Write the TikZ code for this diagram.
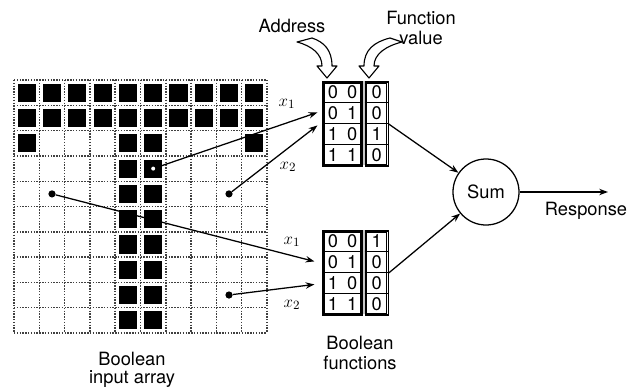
\documentclass[tikz,border=0pt]{standalone}
\usepackage{fontspec}
\setmainfont{TeX Gyre Heros}
\usetikzlibrary{arrows.meta,calc,positioning}

\begin{document}
\begin{tikzpicture}[x=0.025cm, y=-0.025cm,
    lbl/.style={font=\fontsize{13}{14}\selectfont, align=center, inner sep=1pt},
    gridline/.style={densely dotted, line width=1pt, black!75},
    dot/.style={circle, fill=black, inner sep=0pt, minimum size=0.18cm},
    wdot/.style={circle, fill=white, inner sep=0pt, minimum size=0.1cm},
    addr/.style={rectangle, draw, line width=0.8pt,
               minimum width=0.975cm, minimum height=2.1cm, inner sep=0pt},
    fval/.style={addr, minimum width=0.575cm},
    hollow/.style={draw, fill=white, line width=0.8pt, line join=round},
    arr/.style={-{Stealth[length=2.2mm,width=1.6mm]}, line width=0.9pt}
]
    \useasboundingbox (0,0) rectangle (627,390);

    % Boolean input array: dotted 10x10 grid
    \foreach \i in {0,...,10} {
        \draw[gridline] ({14+25.3*\i},80) -- ({14+25.3*\i},333);
        \draw[gridline] (14,{80+25.3*\i}) -- (267,{80+25.3*\i});
    }
    % the letter T
    \foreach \r in {0,1}
        \foreach \c in {0,...,9}
            \fill ({14+25.3*\c+3.6},{80+25.3*\r+3.6}) rectangle ++(18.1,18.1);
    \foreach \c in {0,4,5,9}
        \fill ({14+25.3*\c+3.6},{80+25.3*2+3.6}) rectangle ++(18.1,18.1);
    \foreach \r in {3,...,9}
        \foreach \c in {4,5}
            \fill ({14+25.3*\c+3.6},{80+25.3*\r+3.6}) rectangle ++(18.1,18.1);

    % sampled pixels
    \node[wdot] (w)  at (153.2,168.6) {};
    \node[dot]  (p1) at (52,193.9) {};
    \node[dot]  (p2) at (229,193.9) {};
    \node[dot]  (p3) at (229,295) {};
    \node[lbl, font=\fontsize{13}{13}\selectfont] (bia) at (132,370) {Boolean\\input array};

    % Boolean functions (look-up tables)
    \node[addr] (fa) at (342.5,124) {};
    \node[fval, right=0.05cm of fa] (fv) {};
    \node[addr] (ga) at (342.5,273) {};
    \node[fval, right=0.05cm of ga] (gv) {};
    \foreach \t in {fa,ga} {
        \fill[gray!45] (\t.north east) rectangle ++(2,84);
    }
    \foreach \t in {fa,fv,ga,gv} {
        \draw[line width=0.6pt] ($(\t.north west)+(2,2)$) rectangle ($(\t.south east)+(-2,-2)$);
        \foreach \r in {1,2,3}
            \draw[line width=0.7pt] ($(\t.north west)+(0,21*\r)$) -- ($(\t.north east)+(0,21*\r)$);
    }
    \foreach \t in {fa,ga} {
        \foreach \r/\a in {1/0\enspace0, 2/0\enspace1, 3/1\enspace0, 4/1\enspace1}
            \node[lbl] (\t\r) at ($(\t.north)+(0,{21*\r-10.5})$) {\a};
    }
    \foreach \r/\v in {1/0, 2/0, 3/1, 4/0}
        \node[lbl] (fv\r) at ($(fv.north)+(0,{21*\r-10.5})$) {\v};
    \foreach \r/\v in {1/1, 2/0, 3/0, 4/0}
        \node[lbl] (gv\r) at ($(gv.north)+(0,{21*\r-10.5})$) {\v};
    \node[lbl] (bf) at (360,353) {Boolean\\functions};

    % inputs to the tables
    \draw[arr] (w)  -- ($(fa.north west)+(-5,31)$);
    \draw[arr] (p2) -- ($(fa.north west)+(-5,44)$);
    \draw[arr] (p1) -- ($(ga.north west)+(-8,31)$);
    \draw[arr] (p3) -- ($(ga.north west)+(-8,54)$);
    \node[lbl] (x1a) at (287,104) {$x_1$};
    \node[lbl] (x2a) at (288,167) {$x_2$};
    \node[lbl] (x1b) at (292,242) {$x_1$};
    \node[lbl] (x2b) at (292,305) {$x_2$};

    % Address / Function value pointers
    \node[lbl] (adr) at (292,26) {Address};
    \node[lbl] (fvl) at (421,28) {Function\\value};
    \draw[hollow] (297,42) .. controls (312,46) and (322,54) .. (322,66) -- (317,66)
        -- (327,78) -- (337,66) -- (332,66) .. controls (332,50) and (324,42) .. (312,38) -- cycle;
    \draw[hollow] (402,42) .. controls (386,46) and (374,54) .. (374,66) -- (379,66)
        -- (369,78) -- (359,66) -- (364,66) .. controls (364,50) and (374,42) .. (390,38) -- cycle;

    % summation and response
    \node[circle, draw, line width=0.9pt, minimum size=1.65cm, lbl] (sum) at (486,192) {Sum};
    \draw[arr] (fv.east) -- (sum);
    \draw[arr] (gv.east) -- (sum);
    \coordinate (out) at (608,192);
    \draw[arr] (sum) -- (out);
    \node[lbl] (resp) at (586,211) {Response};
\end{tikzpicture}
\end{document}
